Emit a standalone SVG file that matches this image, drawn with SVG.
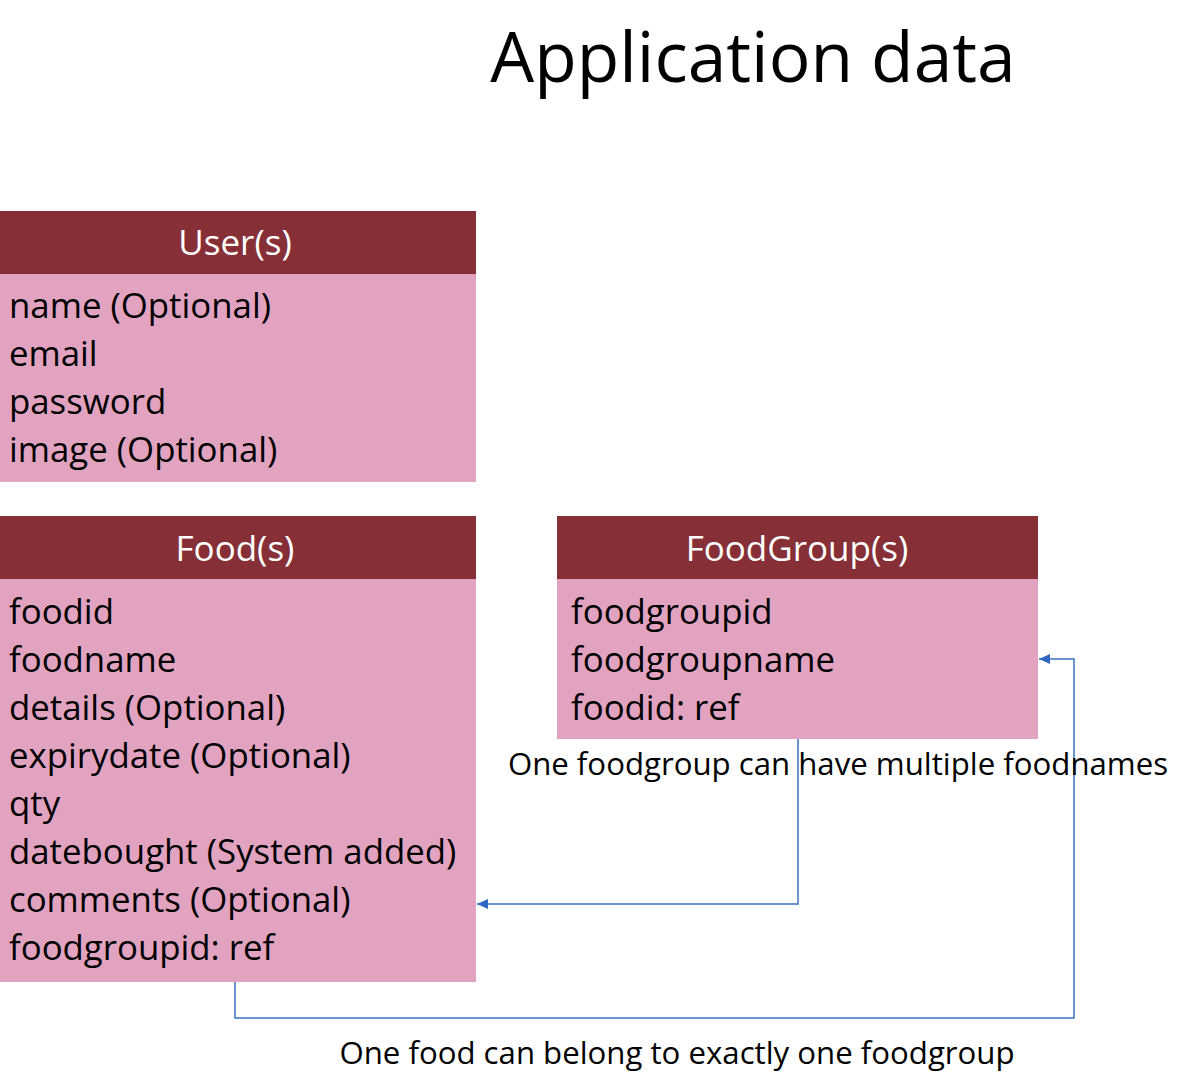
<svg xmlns="http://www.w3.org/2000/svg" width="1180" height="1080" viewBox="0 0 1180 1080">
<style>
.hdr{fill:#862F37}
.body{fill:#E2A3C0}
.ht{font-family:"Open Sans","Noto Sans",sans-serif;font-size:35px;fill:#fff;text-anchor:middle}
.bt{font-family:"Open Sans","Noto Sans",sans-serif;font-size:34.8px;fill:#000}
.lbl{font-family:"Open Sans","Noto Sans",sans-serif;font-size:31.2px;fill:#000;text-anchor:middle}
.conn{fill:none;stroke:#3A72C4;stroke-width:1.5}
</style>
<defs>
<marker id="arr" markerWidth="12" markerHeight="10" refX="11" refY="5" orient="auto" markerUnits="userSpaceOnUse" overflow="visible">
<path d="M0,0 L11,5 L0,10 Z" fill="#2E67BD"/>
</marker>
</defs>
<rect width="1180" height="1080" fill="#fff"/>
<text x="753" y="82" font-family="Open Sans,Noto Sans,sans-serif" font-size="69.5" text-anchor="middle" fill="#000">Application data</text>
<g id="users">
<rect class="hdr" x="0" y="211" width="476" height="63"/>
<rect class="body" x="0" y="274" width="476" height="208"/>
<text class="ht" x="235" y="255">User(s)</text>
<text class="bt" x="9" y="318">name (Optional)</text>
<text class="bt" x="9" y="366">email</text>
<text class="bt" x="9" y="414">password</text>
<text class="bt" x="9" y="462">image (Optional)</text>
</g>
<g id="foods">
<rect class="hdr" x="0" y="516" width="476" height="63"/>
<rect class="body" x="0" y="579" width="476" height="403"/>
<text class="ht" x="235" y="561">Food(s)</text>
<text class="bt" x="9" y="624">foodid</text>
<text class="bt" x="9" y="672">foodname</text>
<text class="bt" x="9" y="720">details (Optional)</text>
<text class="bt" x="9" y="768">expirydate (Optional)</text>
<text class="bt" x="9" y="816">qty</text>
<text class="bt" x="9" y="864">datebought (System added)</text>
<text class="bt" x="9" y="912">comments (Optional)</text>
<text class="bt" x="9" y="960">foodgroupid: ref</text>
</g>
<g id="foodgroups">
<rect class="hdr" x="557" y="516" width="481" height="63"/>
<rect class="body" x="557" y="579" width="481" height="160"/>
<text class="ht" x="797" y="561">FoodGroup(s)</text>
<text class="bt" x="571" y="624">foodgroupid</text>
<text class="bt" x="571" y="672">foodgroupname</text>
<text class="bt" x="571" y="720">foodid: ref</text>
</g>
<g id="connectors">
<path class="conn" d="M798,739 V904 H477" marker-end="url(#arr)"/>
<path class="conn" d="M235,982 V1018 H1074 V659 H1039" marker-end="url(#arr)"/>
</g>
<g id="labels">
<text class="lbl" x="838" y="775">One foodgroup can have multiple foodnames</text>
<text class="lbl" x="677" y="1064">One food can belong to exactly one foodgroup</text>
</g>
</svg>
